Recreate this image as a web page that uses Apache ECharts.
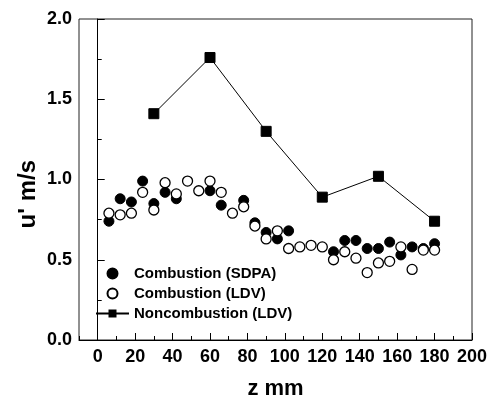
<!DOCTYPE html>
<html>
<head>
<meta charset="utf-8">
<script src="https://cdn.jsdelivr.net/npm/echarts@6/dist/echarts.min.js"></script>
<style>html,body{margin:0;padding:0;background:#fff}#c{width:491px;height:405px}</style>
</head>
<body>
<div id="c"></div>
<script>
// Combustion (SDPA) - filled circles
const sdpaZ = [6,12,18,24,30,36,42,60,66,78,84,90,96,102,126,132,138,144,150,156,162,168,174,180];
const sdpaU = [0.74,0.88,0.86,0.99,0.85,0.92,0.88,0.93,0.84,0.87,0.73,0.67,0.63,0.68,0.55,0.62,0.62,0.57,0.57,0.61,0.53,0.58,0.57,0.60];
// Combustion (LDV) - open circles
const ldvZ = [6,12,18,24,30,36,42,48,54,60,66,72,78,84,90,96,102,108,114,120,126,132,138,144,150,156,162,168,174,180];
const ldvU = [0.79,0.78,0.79,0.92,0.81,0.98,0.91,0.99,0.93,0.99,0.92,0.79,0.83,0.71,0.63,0.68,0.57,0.58,0.59,0.58,0.50,0.55,0.51,0.42,0.48,0.49,0.58,0.44,0.56,0.56];
// Noncombustion (LDV) - squares with line
const nonZ = [30,60,90,120,150,180];
const nonU = [1.41,1.76,1.30,0.89,1.02,0.74];
const xMajorTicks = [0,20,40,60,80,100,120,140,160,180,200];
const seriesNames = ['Combustion (SDPA)','Combustion (LDV)','Noncombustion (LDV)'];
const xTitle = 'z mm';
const yTitle = "u' m/s";

const zip = (a,b) => a.map((v,i)=>[v,b[i]]);
const FONT = '"Liberation Sans", Arial, sans-serif';
const chart = echarts.init(document.getElementById('c'), null, {renderer:'canvas'});
chart.setOption({
  animation:false,
  backgroundColor:'#fff',
  grid:{left:79,right:19,top:19,bottom:65,show:true,borderColor:'#222',borderWidth:1,backgroundColor:'transparent'},
  xAxis:[{
    type:'value',min:-10,max:200,interval:10,
    axisLine:{show:true,onZero:false,lineStyle:{color:'#000',width:1}},
    axisTick:{show:true,inside:true,length:7,customValues:xMajorTicks,lineStyle:{color:'#000'}},
    axisLabel:{customValues:xMajorTicks,color:'#000',fontFamily:FONT,fontWeight:'bold',fontSize:18,margin:8},
    splitLine:{show:false},
    name:xTitle,nameLocation:'middle',nameGap:38,
    nameTextStyle:{color:'#000',fontFamily:FONT,fontWeight:'bold',fontSize:22}
  },{
    type:'value',min:-10,max:200,interval:10,position:'bottom',
    axisLine:{show:false},
    axisTick:{show:true,inside:true,length:4,lineStyle:{color:'#000'}},
    axisLabel:{show:false},splitLine:{show:false}
  }],
  yAxis:{
    type:'value',min:0,max:2,interval:0.5,
    axisLine:{show:true,lineStyle:{color:'#000',width:1}},
    axisTick:{show:true,inside:true,length:7,lineStyle:{color:'#000'}},
    minorTick:{show:true,splitNumber:2,length:4,lineStyle:{color:'#000'}},
    axisLabel:{formatter:v=>v.toFixed(1),color:'#000',fontFamily:FONT,fontWeight:'bold',fontSize:18,margin:7},
    splitLine:{show:false}
  },
  legend:{
    orient:'vertical',left:95,top:266,padding:0,itemWidth:33,itemHeight:10,itemGap:5,
    data:seriesNames,
    textStyle:{color:'#000',fontFamily:FONT,fontWeight:'bold',fontSize:15,lineHeight:15}
  },
  graphic:[{
    type:'text',left:16,top:160,rotation:Math.PI/2,
    style:{text:yTitle,fill:'#000',font:'bold 24px '+FONT}
  }],
  series:[
    {name:seriesNames[0],type:'scatter',data:zip(sdpaZ,sdpaU),symbol:'circle',symbolSize:10,
     itemStyle:{color:'#000',borderColor:'#000',borderWidth:1,opacity:1}},
    {name:seriesNames[1],type:'scatter',data:zip(ldvZ,ldvU),symbol:'circle',symbolSize:10,
     itemStyle:{color:'#fff',borderColor:'#000',borderWidth:1.3,opacity:1}},
    {name:seriesNames[2],type:'line',data:zip(nonZ,nonU),symbol:'rect',symbolSize:10,
     lineStyle:{color:'#000',width:1},itemStyle:{color:'#000',borderColor:'#000',opacity:1}}
  ]
});
</script>
</body>
</html>
